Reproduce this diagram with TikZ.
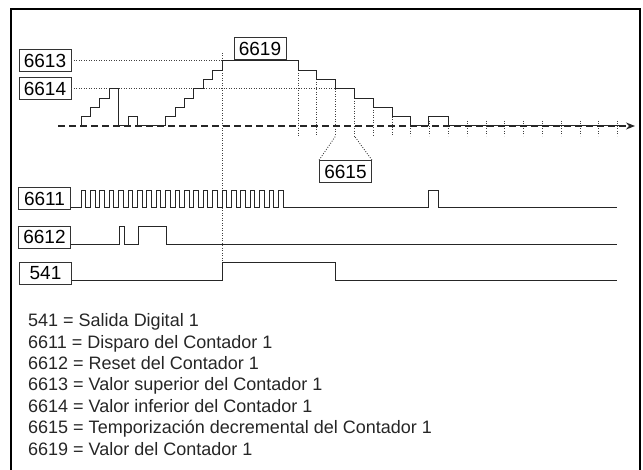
\documentclass[tikz,border=0pt]{standalone}
\usepackage{fontspec}
\setmainfont{Liberation Sans}
\usetikzlibrary{arrows.meta}

\begin{document}
\begin{tikzpicture}[x=1pt,y=-1pt,
  box/.style={draw=black!80, line width=0.8pt, minimum width=52pt, minimum height=22pt, inner sep=0pt, font=\fontsize{19}{19}\selectfont},
  sig/.style={draw=black!85, line width=1pt},
  dots/.style={draw=black!75, line width=0.9pt, dash pattern=on 0.9pt off 1.6pt},
  leg/.style={anchor=base west, inner sep=0pt, text=black!85, font=\fontsize{18}{18}\selectfont}]
  \useasboundingbox (0,0) rectangle (643,470);
  \draw[line width=1.2pt] (11,470) -- (11,9) -- (640,9) -- (640,470);

  \node[box] (b6613) at (45,60.9) {6613};
  \node[box] (b6614) at (45,88.8) {6614};
  \node[box] (b6619) at (260,48.5) {6619};
  \node[box] (b6615) at (345.5,171.5) {6615};
  \node[box] (b6611) at (44.5,198.5) {6611};
  \node[box] (b6612) at (44.5,237) {6612};
  \node[box] (b541) at (45.5,273.5) {541};

  \coordinate (hi) at (222,60.9);
  \coordinate (lo) at (335.6,88.8);
  \coordinate (dA) at (335.6,136);
  \coordinate (dB) at (354.4,136);

  \draw[dots] (b6613.east) -- (hi);
  \draw[dots] (b6614.east) -- (lo);
  \draw[dots] (222,53) -- (222,263);
  \draw[dots] (b6615.north west) -- (dA);
  \draw[dots] (b6615.north east) -- (dB);
  \foreach \j in {0,...,6}
    \draw[dots] ({298+18.8*\j},{126-(6-\j)*9.3}) -- ({298+18.8*\j},136);
  \foreach \j in {7,...,17}
    \draw[dots] ({298+18.8*\j},121) -- ({298+18.8*\j},136);

  \draw[draw=black!85, line width=1.2pt, dash pattern=on 6.5pt off 4.5pt, -{Stealth[length=9pt,width=7pt]}] (58,126) -- (635,126);

  \draw[sig] (81,126) |- (90.4,116.7) |- (99.8,107.4) |- (109.2,98.1) |- (118.6,88.8)
    |- (128,126) |- (137.4,116.7) |- (165.6,126) |- (175,116.7) |- (184.4,107.4)
    |- (193.8,98.1) |- (203.2,88.8) |- (212.6,79.5) |- (222,70.2) |- (298,60.9)
    |- (316.8,70.2) |- (335.6,79.5) |- (354.4,88.8) |- (373.2,98.1) |- (392,107.4)
    |- (410.8,116.7) |- (428.8,126) |- (448.4,116.7) |- (626,126);

  \draw[sig] (b6611.east |- 0,208) \foreach \k in {0,...,21} { -- ({81+9.4*\k},208) -- ++(0,-17) -- ++(4.7,0) -- ++(0,17) }
    -- (428.8,208) -- ++(0,-17) -- ++(10,0) -- ++(0,17) -- (617,208);
  \draw[sig] (b6612.east |- 0,245) -- (119,245) |- (124,227) |- (138,245) |- (166,227) |- (617,245);
  \draw[sig] (b541.east |- 0,281) -- (222,281) |- (335,263) |- (617,281);

  \node[leg] (k541) at (28,326.7) {541 = Salida Digital 1};
  \node[leg] (k6611) at (28,348.1) {6611 = Disparo del Contador 1};
  \node[leg] (k6612) at (28,369.5) {6612 = Reset del Contador 1};
  \node[leg] (k6613) at (28,390.9) {6613 = Valor superior del Contador 1};
  \node[leg] (k6614) at (28,412.3) {6614 = Valor inferior del Contador 1};
  \node[leg] (k6615) at (28,433.7) {6615 = Temporización decremental del Contador 1};
  \node[leg] (k6619) at (28,455.1) {6619 = Valor del Contador 1};
\end{tikzpicture}
\end{document}
